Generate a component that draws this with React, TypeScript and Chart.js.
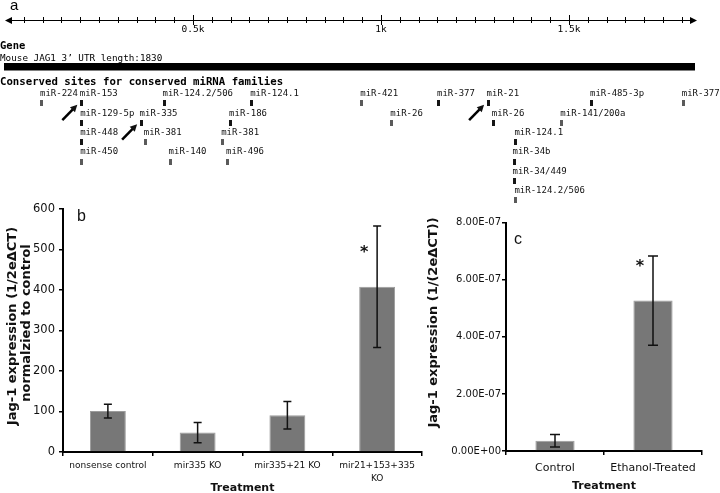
import React, { useEffect, useRef } from "react";
import { Chart, registerables } from "chart.js";

Chart.register(...registerables);

// ---------- Panel a: JAG1 3' UTR ----------
const GENE_LENGTH = 1830;
const RULER_MAJOR = [500, 1000, 1500];
const RULER_MAJOR_LABELS = ["0.5k", "1k", "1.5k"];
const RULER_MINOR_STEP = 50;

const siteNames = [
  "miR-224", "miR-153", "miR-124.2/506", "miR-124.1", "miR-421", "miR-377", "miR-21", "miR-485-3p", "miR-377",
  "miR-129-5p", "miR-335", "miR-186", "miR-26", "miR-26", "miR-141/200a",
  "miR-448", "miR-381", "miR-381", "miR-124.1",
  "miR-450", "miR-140", "miR-496", "miR-34b",
  "miR-34/449",
  "miR-124.2/506",
];
const sitePositions = [
  97, 203, 423, 656, 949, 1153, 1285, 1560, 1804,
  204, 362, 600, 1029, 1299, 1481,
  204, 373, 579, 1359,
  204, 439, 592, 1354,
  1354,
  1359,
];
const siteRows = [
  1, 1, 1, 1, 1, 1, 1, 1, 1,
  2, 2, 2, 2, 2, 2,
  3, 3, 3, 3,
  4, 4, 4, 4,
  5,
  6,
];
const siteDark = [
  false, true, true, true, false, true, true, true, false,
  true, true, true, false, true, false,
  true, false, false, true,
  false, false, false, true,
  true,
  false,
];
const arrowSites = [1, 10, 6]; // miR-153, miR-335, miR-21

// ---------- Panel b ----------
const treatmentsB: (string | string[])[] = ["nonsense control", "mir335 KO", "mir335+21 KO", ["mir21+153+335", "KO"]];
const expressionB = [101, 48, 91, 408];
const errorB = [17, 25, 34, 150];
const signifB = ["", "", "", "*"];

// ---------- Panel c ----------
const treatmentsC = ["Control", "Ethanol-Treated"];
const expressionC = [3.6e-8, 5.27e-7];
const errorC = [2.2e-8, 1.56e-7];
const signifC = ["", "*"];

const SANS = "'DejaVu Sans', Verdana, sans-serif";
const MONO = "'DejaVu Sans Mono', monospace";
const ARIAL = "'Liberation Sans', Arial, sans-serif";

function sci(v: number): string {
  if (Math.abs(v) < 1e-20) return "0.00E+00";
  const [m, e] = v.toExponential(2).split("e");
  const n = parseInt(e, 10);
  return m + "E" + (n < 0 ? "-" : "+") + String(Math.abs(n)).padStart(2, "0");
}

function markerImage(color: string): HTMLCanvasElement {
  const c = document.createElement("canvas");
  c.width = 3;
  c.height = 6;
  const g = c.getContext("2d")!;
  g.fillStyle = color;
  g.fillRect(0, 0, 3, 6);
  return c;
}

function errorBarPlugin(values: number[], errors: number[], signif: string[], cap: number) {
  return {
    id: "errbars",
    afterDatasetsDraw(chart: any) {
      const ctx = chart.ctx;
      const meta = chart.getDatasetMeta(0);
      const ys = chart.scales.y;
      ctx.save();
      ctx.strokeStyle = "#111";
      ctx.lineWidth = 1.5;
      values.forEach((v, i) => {
        const bar = meta.data[i];
        const x = bar.x;
        const top = ys.getPixelForValue(v + errors[i]);
        const bot = ys.getPixelForValue(v - errors[i]);
        ctx.beginPath();
        ctx.moveTo(x, top);
        ctx.lineTo(x, bot);
        ctx.moveTo(x - cap, top);
        ctx.lineTo(x + cap, top);
        ctx.moveTo(x - cap, bot);
        ctx.lineTo(x + cap, bot);
        ctx.stroke();
        if (signif[i]) {
          ctx.fillStyle = "#111";
          ctx.font = "bold 16px " + SANS;
          ctx.textAlign = "center";
          ctx.textBaseline = "middle";
          ctx.fillText(signif[i], x - 13, bar.y - 34);
        }
      });
      ctx.restore();
    },
  };
}

function textPlugin(items: { text: string; x: number; y: number; font: string; rot?: boolean }[]) {
  return {
    id: "texts",
    afterDraw(chart: any) {
      const ctx = chart.ctx;
      ctx.save();
      ctx.fillStyle = "#111";
      items.forEach((it) => {
        ctx.save();
        ctx.font = it.font;
        ctx.translate(it.x, it.y);
        if (it.rot) {
          ctx.rotate(-Math.PI / 2);
          ctx.textAlign = "center";
        } else {
          ctx.textAlign = "left";
        }
        ctx.textBaseline = "middle";
        ctx.fillText(it.text, 0, 0);
        ctx.restore();
      });
      ctx.restore();
    },
  };
}

const genomePlugin = {
  id: "genome",
  afterDatasetsDraw(chart: any) {
    const ctx = chart.ctx;
    const xs = chart.scales.x;
    const ys = chart.scales.y;
    const px = (v: number) => xs.getPixelForValue(v);
    ctx.save();
    ctx.fillStyle = "#000";
    ctx.strokeStyle = "#000";
    // panel letter
    ctx.font = "15px " + ARIAL;
    ctx.textBaseline = "alphabetic";
    ctx.fillText("a", 10, 10);
    // ruler
    const ry = 20;
    const x0 = px(0);
    const x1 = px(GENE_LENGTH) + 4;
    ctx.lineWidth = 1;
    ctx.beginPath();
    ctx.moveTo(x0 + 2, ry + 0.5);
    ctx.lineTo(x1 - 2, ry + 0.5);
    ctx.stroke();
    ctx.beginPath();
    ctx.moveTo(x0, ry + 0.5);
    ctx.lineTo(x0 + 7, ry - 3);
    ctx.lineTo(x0 + 7, ry + 4);
    ctx.closePath();
    ctx.fill();
    ctx.beginPath();
    ctx.moveTo(x1, ry + 0.5);
    ctx.lineTo(x1 - 7, ry - 3);
    ctx.lineTo(x1 - 7, ry + 4);
    ctx.closePath();
    ctx.fill();
    for (let v = RULER_MINOR_STEP; v <= GENE_LENGTH; v += RULER_MINOR_STEP) {
      const major = RULER_MAJOR.indexOf(v) >= 0;
      const x = Math.round(px(v)) + 0.5;
      ctx.beginPath();
      ctx.moveTo(x, ry - (major ? 5 : 3));
      ctx.lineTo(x, ry + (major ? 5 : 3));
      ctx.stroke();
    }
    ctx.font = "9.5px " + MONO;
    ctx.textAlign = "center";
    ctx.textBaseline = "middle";
    RULER_MAJOR.forEach((v, i) => ctx.fillText(RULER_MAJOR_LABELS[i], px(v), 30));
    // headings
    ctx.textAlign = "left";
    ctx.font = "bold 10.5px " + MONO;
    ctx.fillText("Gene", 0, 46);
    ctx.font = "9.3px " + MONO;
    ctx.fillText("Mouse JAG1 3\u2019 UTR length:1830", 0, 58.5);
    ctx.fillRect(px(0) - 1, 63, px(GENE_LENGTH) + 3 - px(0), 7.5);
    ctx.font = "bold 10.7px " + MONO;
    ctx.fillText("Conserved sites for conserved miRNA families", 0, 82);
    // site labels
    ctx.font = "9px " + MONO;
    ctx.fillStyle = "#111";
    siteNames.forEach((n, i) => {
      ctx.fillText(n, px(sitePositions[i]) - 1.5, ys.getPixelForValue(siteRows[i]) - 9.5);
    });
    // arrows
    ctx.lineWidth = 2.5;
    arrowSites.forEach((i) => {
      const mx = px(sitePositions[i]);
      const my = ys.getPixelForValue(siteRows[i]);
      const tx = mx - 4, ty = my + 1.5;
      const sx = mx - 19, sy = my + 17;
      const ang = Math.atan2(ty - sy, tx - sx);
      const hl = 7;
      ctx.beginPath();
      ctx.moveTo(sx, sy);
      ctx.lineTo(tx - Math.cos(ang) * 4, ty - Math.sin(ang) * 4);
      ctx.stroke();
      ctx.beginPath();
      ctx.moveTo(tx, ty);
      ctx.lineTo(tx - hl * Math.cos(ang) + 3.5 * Math.sin(ang), ty - hl * Math.sin(ang) - 3.5 * Math.cos(ang));
      ctx.lineTo(tx - hl * Math.cos(ang) - 3.5 * Math.sin(ang), ty - hl * Math.sin(ang) + 3.5 * Math.cos(ang));
      ctx.closePath();
      ctx.fill();
    });
    ctx.restore();
  },
};

export default function App() {
  const refA = useRef<HTMLCanvasElement>(null);
  const refB = useRef<HTMLCanvasElement>(null);
  const refC = useRef<HTMLCanvasElement>(null);

  useEffect(() => {
    const darkImg = markerImage("#151515");
    const grayImg = markerImage("#5a5a5a");
    const darkPts: { x: number; y: number }[] = [];
    const grayPts: { x: number; y: number }[] = [];
    sitePositions.forEach((p, i) => {
      (siteDark[i] ? darkPts : grayPts).push({ x: p, y: siteRows[i] });
    });

    const chartA = new Chart(refA.current!, {
      type: "scatter",
      data: {
        datasets: [
          { data: darkPts, pointStyle: darkImg as any, pointRadius: 3 },
          { data: grayPts, pointStyle: grayImg as any, pointRadius: 3 },
        ],
      },
      options: {
        responsive: false,
        animation: false,
        devicePixelRatio: 1,
        layout: { padding: { left: 1, right: 27, top: 0, bottom: 0 } },
        plugins: { legend: { display: false }, tooltip: { enabled: false } },
        scales: {
          x: { type: "linear", min: 0, max: GENE_LENGTH, display: false },
          y: { type: "linear", min: -4.05, max: 6.49, reverse: true, display: false },
        },
      },
      plugins: [genomePlugin],
    });

    const axisCommon = {
      border: { color: "#000", width: 2 },
    };

    const chartB = new Chart(refB.current!, {
      type: "bar",
      data: {
        labels: treatmentsB as any,
        datasets: [
          {
            data: expressionB,
            backgroundColor: "#777777",
            borderColor: "#9c9c9c",
            borderWidth: 1,
            barPercentage: 0.4,
            categoryPercentage: 1,
          },
        ],
      },
      options: {
        responsive: false,
        animation: false,
        devicePixelRatio: 1,
        layout: { padding: { left: 0, top: 14, right: 8, bottom: 0 } },
        plugins: { legend: { display: false }, tooltip: { enabled: false } },
        scales: {
          x: {
            ...axisCommon,
            grid: { drawOnChartArea: false, color: "#000", tickLength: 4, lineWidth: 1.5 },
            ticks: { color: "#111", font: { family: SANS, size: 9, lineHeight: 1.35 }, padding: 4, maxRotation: 0, autoSkip: false },
            title: { display: true, text: "Treatment", color: "#111", font: { family: SANS, size: 11, weight: "bold" }, padding: { top: 0, bottom: -1.5 } },
            afterFit: (s: any) => { s.height = 41; },
          } as any,
          y: {
            ...axisCommon,
            min: 0,
            max: 600,
            grid: { drawOnChartArea: false, color: "#000", tickLength: 4, lineWidth: 1.5 },
            ticks: { stepSize: 100, color: "#111", font: { family: SANS, size: 11.5 }, padding: 4 },
            afterFit: (s: any) => { s.width = 63; },
          } as any,
        },
      },
      plugins: [
        errorBarPlugin(expressionB, errorB, signifB, 4),
        textPlugin([
          { text: "b", x: 77, y: 22, font: "16px " + ARIAL },
          { text: "Jag-1 expression (1/2e\u0394CT)", x: 13, y: 131, font: "bold 13px " + SANS, rot: true },
          { text: "normalzied to control", x: 26.5, y: 128, font: "bold 13px " + SANS, rot: true },
        ]),
      ],
    });

    const chartC = new Chart(refC.current!, {
      type: "bar",
      data: {
        labels: treatmentsC,
        datasets: [
          {
            data: expressionC,
            backgroundColor: "#777777",
            borderColor: "#9c9c9c",
            borderWidth: 1,
            barPercentage: 0.4,
            categoryPercentage: 1,
          },
        ],
      },
      options: {
        responsive: false,
        animation: false,
        devicePixelRatio: 1,
        layout: { padding: { left: 0, top: 27.7, right: 18, bottom: 0 } },
        plugins: { legend: { display: false }, tooltip: { enabled: false } },
        scales: {
          x: {
            ...axisCommon,
            grid: { drawOnChartArea: false, color: "#000", tickLength: 4, lineWidth: 1.5 },
            ticks: { color: "#111", font: { family: SANS, size: 11 }, padding: 7, maxRotation: 0, autoSkip: false },
            title: { display: true, text: "Treatment", color: "#111", font: { family: SANS, size: 11, weight: "bold" }, padding: { top: 0, bottom: 0.5 } },
            afterFit: (s: any) => { s.height = 42; },
          } as any,
          y: {
            ...axisCommon,
            min: 0,
            max: 8e-7,
            grid: { drawOnChartArea: false, color: "#000", tickLength: 4, lineWidth: 1.5 },
            ticks: { stepSize: 2e-7, color: "#111", font: { family: SANS, size: 10 }, padding: 1, callback: (v: any) => sci(Number(v)) },
            afterFit: (s: any) => { s.width = 86; },
          } as any,
        },
      },
      plugins: [
        errorBarPlugin(expressionC, errorC, signifC, 5),
        textPlugin([
          { text: "c", x: 94, y: 45, font: "16px " + ARIAL },
          { text: "Jag-1 expression (1/(2e\u0394CT))", x: 14, y: 127.5, font: "bold 13px " + SANS, rot: true },
        ]),
      ],
    });

    return () => {
      chartA.destroy();
      chartB.destroy();
      chartC.destroy();
    };
  }, []);

  return (
    <div style={{ position: "absolute", left: 0, top: 0, width: 720, height: 493, background: "#fff", overflow: "hidden" }}>
      <canvas ref={refA} width={720} height={215} style={{ position: "absolute", left: 0, top: 0, width: 720, height: 215 }} />
      <canvas ref={refB} width={430} height={298} style={{ position: "absolute", left: 0, top: 195, width: 430, height: 298 }} />
      <canvas ref={refC} width={300} height={298} style={{ position: "absolute", left: 420, top: 195, width: 300, height: 298 }} />
    </div>
  );
}
